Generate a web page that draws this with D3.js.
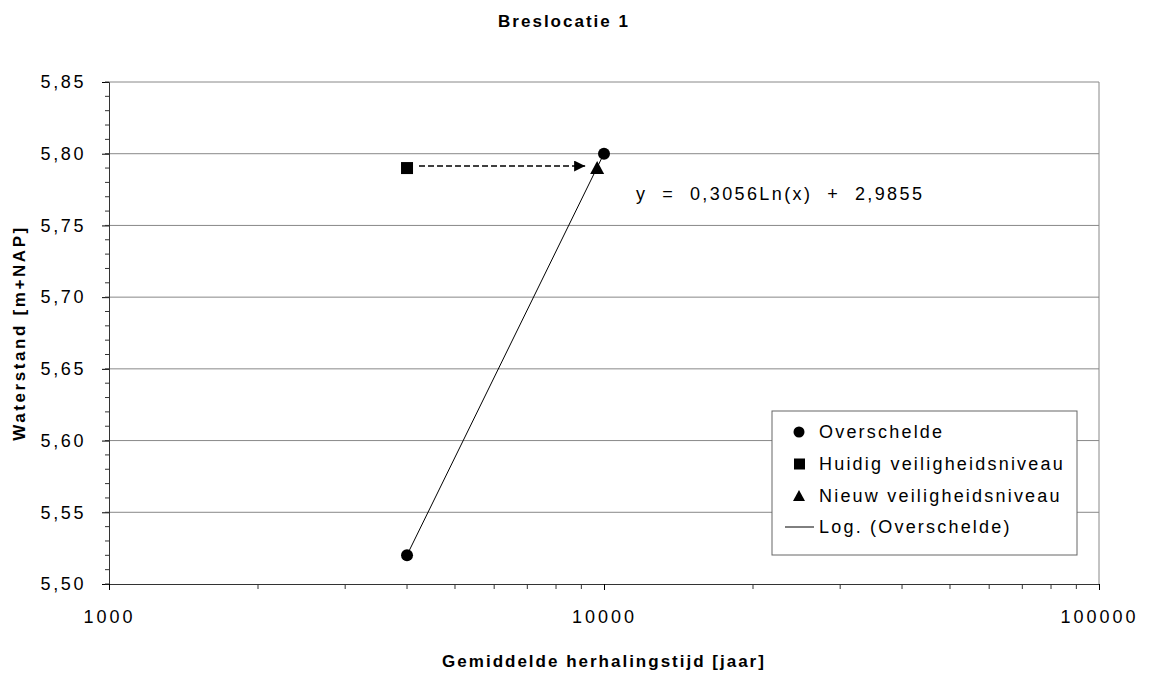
<!DOCTYPE html>
<html><head><meta charset="utf-8">
<script src="https://cdn.jsdelivr.net/npm/d3@7"></script>
<style>body{margin:0;background:#fff}svg{font-family:"Liberation Sans",Arial,sans-serif}</style>
</head><body><svg id="c" width="1154" height="675"></svg>
<script>
const title = "Breslocatie 1";
const xLabel = "Gemiddelde herhalingstijd [jaar]";
const yLabel = "Waterstand [m+NAP]";
const overscheldeX = [4000, 10000];
const overscheldeY = [5.52, 5.80];
const huidigX = [4000];
const huidigY = [5.79];
const nieuwX = [9686];
const nieuwY = [5.79];
const trendA = 0.3056, trendB = 2.9855;
const yTicks = [5.50, 5.55, 5.60, 5.65, 5.70, 5.75, 5.80, 5.85];
const xTicks = [1000, 10000, 100000];
const legendLabels = ["Overschelde", "Huidig veiligheidsniveau", "Nieuw veiligheidsniveau", "Log. (Overschelde)"];
const equation = "y = 0,3056Ln(x) + 2,9855";

const svg = d3.select("#c");
const L = 109, R = 1099, T = 82, B = 584;
const x = d3.scaleLog().domain([1000, 100000]).range([L, R]);
const y = d3.scaleLinear().domain([5.50, 5.85]).range([B, T]);
const fmt = v => d3.format(".2f")(v).replace(".", ",");

// gridlines
svg.append("g").selectAll("line").data(yTicks.slice(1)).join("line")
  .attr("x1", L).attr("x2", R).attr("y1", d => y(d)).attr("y2", d => y(d))
  .attr("stroke", "#888").attr("stroke-width", 1);
// right border
svg.append("line").attr("x1", R).attr("x2", R).attr("y1", T).attr("y2", B).attr("stroke", "#888");

// y axis
const minorY = d3.range(5.50, 5.8501, 0.01);
const yAxis = svg.append("g").attr("transform", `translate(${L},0)`)
  .call(d3.axisLeft(y).tickValues(yTicks).tickFormat(fmt).tickSize(7).tickPadding(16));
yAxis.selectAll(".tick text").attr("font-size", 18).attr("letter-spacing", 2.6).attr("fill", "#000").attr("font-family", "Liberation Sans, Arial");
svg.append("g").selectAll("line").data(minorY).join("line")
  .attr("x1", L - 4).attr("x2", L).attr("y1", d => y(d)).attr("y2", d => y(d)).attr("stroke", "#333");
// x axis
const minorX = [];
[1000, 10000].forEach(b => { for (let k = 2; k <= 9; k++) minorX.push(b * k); });
const xAxis = svg.append("g").attr("transform", `translate(0,${B})`)
  .call(d3.axisBottom(x).tickValues(xTicks).tickFormat(d3.format("d")).tickSize(6).tickPadding(20));
xAxis.selectAll(".tick text").attr("font-size", 18).attr("letter-spacing", 3).attr("fill", "#000").attr("font-family", "Liberation Sans, Arial");
svg.append("g").selectAll("line").data(minorX).join("line")
  .attr("x1", d => x(d)).attr("x2", d => x(d)).attr("y1", B).attr("y2", B + 5).attr("stroke", "#333");
svg.selectAll(".domain").attr("stroke", "#333");

// trend line
const tx = d3.extent(overscheldeX);
svg.append("path")
  .datum(tx)
  .attr("d", d3.line().x(d => x(d)).y(d => y(trendA * Math.log(d) + trendB)))
  .attr("stroke", "#000").attr("stroke-width", 1).attr("fill", "none");

// arrow
svg.append("defs").append("marker").attr("id", "ah").attr("viewBox", "0 0 10 10")
  .attr("refX", 10).attr("refY", 5).attr("markerWidth", 14).attr("markerHeight", 11)
  .attr("markerUnits", "userSpaceOnUse").attr("orient", "auto")
  .append("path").attr("d", "M0,0L10,5L0,10Z").attr("fill", "#000");
svg.append("line")
  .attr("x1", x(huidigX[0]) + 12).attr("x2", x(nieuwX[0]) - 12)
  .attr("y1", y(huidigY[0]) - 2).attr("y2", y(huidigY[0]) - 2)
  .attr("stroke", "#000").attr("stroke-width", 1.5).attr("stroke-dasharray", "6,3")
  .attr("marker-end", "url(#ah)");

// points
svg.append("g").selectAll("circle").data(overscheldeX.map((d, i) => [d, overscheldeY[i]])).join("circle")
  .attr("cx", d => x(d[0])).attr("cy", d => y(d[1])).attr("r", 6).attr("fill", "#000");
svg.append("g").selectAll("rect").data(huidigX.map((d, i) => [d, huidigY[i]])).join("rect")
  .attr("x", d => x(d[0]) - 6).attr("y", d => y(d[1]) - 6).attr("width", 12).attr("height", 12).attr("fill", "#000");
svg.append("g").selectAll("path").data(nieuwX.map((d, i) => [d, nieuwY[i]])).join("path")
  .attr("transform", d => `translate(${x(d[0])},${y(d[1])})`)
  .attr("d", "M0,-7L7,6L-7,6Z").attr("fill", "#000");

// equation
svg.append("text").attr("x", 636).attr("y", 200).attr("font-size", 18).attr("letter-spacing", 2.4)
  .style("white-space", "pre").text(equation.replace(/ /g, "  "));

// legend
const lg = svg.append("g");
lg.append("rect").attr("x", 772).attr("y", 411).attr("width", 305).attr("height", 144)
  .attr("fill", "#fff").attr("stroke", "#666");
const ly = [432, 464, 496, 527];
lg.append("circle").attr("cx", 799).attr("cy", ly[0]).attr("r", 5.5).attr("fill", "#000");
lg.append("rect").attr("x", 794).attr("y", ly[1] - 5.5).attr("width", 11).attr("height", 11).attr("fill", "#000");
lg.append("path").attr("transform", `translate(799,${ly[2]})`).attr("d", "M0,-6L6,5L-6,5Z").attr("fill", "#000");
lg.append("line").attr("x1", 785).attr("x2", 814).attr("y1", ly[3]).attr("y2", ly[3]).attr("stroke", "#000");
lg.selectAll("text").data(legendLabels).join("text")
  .attr("x", 819).attr("y", (d, i) => ly[i] + 6).attr("font-size", 18).attr("letter-spacing", 2.2).text(d => d);

// titles
svg.append("text").attr("x", 564).attr("y", 27).attr("text-anchor", "middle")
  .attr("font-size", 17).attr("letter-spacing", 2).attr("font-weight", "bold").text(title);
svg.append("text").attr("x", 604).attr("y", 667).attr("text-anchor", "middle")
  .attr("font-size", 17).attr("letter-spacing", 2).attr("font-weight", "bold").text(xLabel);
svg.append("text").attr("transform", `translate(25,${(T + B) / 2}) rotate(-90)`).attr("text-anchor", "middle")
  .attr("font-size", 17).attr("letter-spacing", 2.6).attr("font-weight", "bold").text(yLabel);
</script></body></html>
